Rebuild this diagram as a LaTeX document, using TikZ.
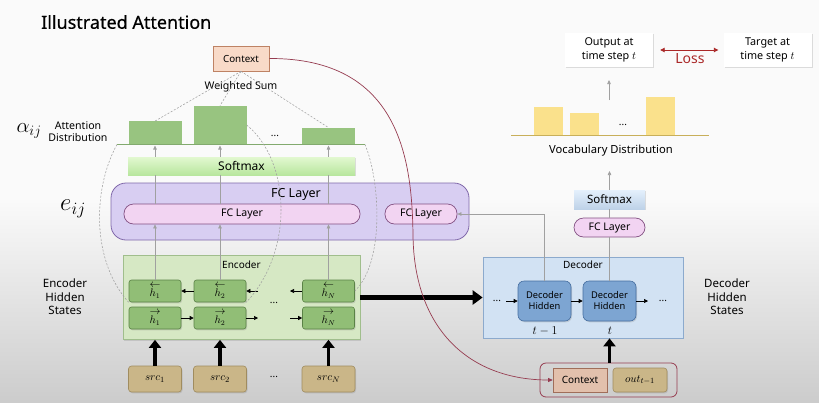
\documentclass[tikz,border=0pt]{standalone}
\usepackage{fontspec}
\setmainfont{Noto Sans}
\newfontfamily\titlefont[FakeBold=0.5]{Noto Sans}
\usetikzlibrary{arrows.meta,shadows,calc}

\definecolor{bgtop}{RGB}{250,250,250}
\definecolor{bgbot}{RGB}{204,204,204}
\definecolor{attgreen}{RGB}{152,196,128}
\definecolor{attline}{RGB}{130,170,110}
\definecolor{smxtop}{RGB}{226,248,208}
\definecolor{smxbot}{RGB}{184,230,158}
\definecolor{fcoutfill}{RGB}{216,206,242}
\definecolor{fcoutdraw}{RGB}{128,104,170}
\definecolor{fcinfill}{RGB}{242,212,242}
\definecolor{fcindraw}{RGB}{130,80,130}
\definecolor{encfill}{RGB}{214,232,196}
\definecolor{encdraw}{RGB}{160,190,140}
\definecolor{cellfill}{RGB}{145,190,118}
\definecolor{celldraw}{RGB}{90,130,70}
\definecolor{srcfill}{RGB}{202,182,136}
\definecolor{srcdraw}{RGB}{160,140,95}
\definecolor{decfill}{RGB}{210,226,243}
\definecolor{decdraw}{RGB}{140,170,205}
\definecolor{dhfill}{RGB}{125,165,210}
\definecolor{dhdraw}{RGB}{70,110,160}
\definecolor{ctxfill}{RGB}{248,218,200}
\definecolor{ctxdraw}{RGB}{190,130,100}
\definecolor{ctxbfill}{RGB}{226,192,172}
\definecolor{ctxbdraw}{RGB}{160,110,90}
\definecolor{maroon}{RGB}{150,60,80}
\definecolor{vocyellow}{RGB}{250,225,140}
\definecolor{vocline}{RGB}{200,175,90}
\definecolor{lossred}{RGB}{170,40,40}
\definecolor{dsmtop}{RGB}{228,240,252}
\definecolor{dsmbot}{RGB}{190,210,232}
\definecolor{guide}{RGB}{160,160,160}

\tikzset{
  shad/.style={drop shadow={opacity=0.25,shadow xshift=1pt,shadow yshift=-1.3pt}},
  box/.style={inner sep=0pt, align=center},
  attbar/.style={box, fill=attgreen, minimum width=53pt, anchor=south},
  vocbar/.style={box, fill=vocyellow, minimum width=29pt, anchor=south},
  hcell/.style={box, shad, draw=celldraw, fill=cellfill, rounded corners=2.5pt, line width=0.6pt,
    minimum width=52pt, minimum height=22pt, font=\fontsize{10.5}{9}\selectfont},
  srcbox/.style={box, shad, draw=srcdraw, fill=srcfill, rounded corners=3pt, line width=0.6pt,
    minimum width=53pt, minimum height=26pt, font=\fontsize{11}{12}\selectfont},
  fcin/.style={box, draw=fcindraw, fill=fcinfill, rounded corners=9.5pt, line width=0.7pt,
    minimum height=20pt, font=\fontsize{10.5}{12}\selectfont},
  dhid/.style={box, shad, draw=dhdraw, fill=dhfill, rounded corners=6pt, line width=0.6pt,
    minimum width=53pt, minimum height=40pt, font=\fontsize{9.3}{11}\selectfont},
  whitebox/.style={box, fill=white, shad, minimum width=88pt, minimum height=34pt,
    font=\fontsize{10.8}{13.5}\selectfont},
  lbl/.style={box, font=\fontsize{11.5}{13.4}\selectfont},
  small/.style={box, font=\fontsize{10}{12}\selectfont},
  gline/.style={draw=guide, line width=0.6pt},
  garrow/.style={gline, -{Triangle[length=4pt,width=3.5pt]}},
  kline/.style={line width=0.6pt, -{Triangle[length=4pt,width=4pt]}},
  fat/.style={line width=3.5pt, -{Triangle[length=8pt,width=12pt]}},
  fatter/.style={line width=4.5pt, -{Triangle[length=10pt,width=14pt]}},
  wdash/.style={draw=guide, line width=0.55pt, dash pattern=on 2pt off 1.6pt},
}

\begin{document}
\begin{tikzpicture}[x=1pt,y=-1pt]
% page background
\fill[bgtop] (0,0) rectangle (819,200);
\shade[top color=bgtop, bottom color=bgbot] (0,200) rectangle (819,402);
\useasboundingbox (0,0) rectangle (819,402);

% title
\node[anchor=west, inner sep=0pt, font=\titlefont\fontsize{18}{20}\selectfont] (title) at (41,22) {Illustrated Attention};

% ---------- attention side ----------
\node[box, shad, draw=ctxdraw, fill=ctxfill, line width=0.7pt, minimum width=56pt, minimum height=25pt,
      font=\fontsize{9.8}{11}\selectfont] (ctx) at (241,58.5) {Context};
\node[small, font=\fontsize{10.6}{12}\selectfont] (wsum) at (241,87) {Weighted Sum};

\node[attbar, minimum height=23pt] (bar1) at (155,144.5) {};
\node[attbar, minimum height=38.5pt] (bar2) at (220,144.5) {};
\node[attbar, minimum height=16.5pt] (bar3) at (328.5,144.5) {};
\coordinate (attL) at (117,144.5);
\coordinate (attR) at (365,144.5);
\draw[attline, line width=1pt] (attL) -- (attR);
\node[small] (attdots) at (275,136) {...};

\node[box] (alpha) at (29,131) {\fontsize{21}{21}\selectfont$\alpha_{ij}$};
\node[small, font=\fontsize{10.6}{12.2}\selectfont] (attlbl) at (78,132) {Attention\\Distribution};

\node[box, shad, top color=smxtop, bottom color=smxbot, minimum width=227pt, minimum height=18pt,
      font=\fontsize{12}{13}\selectfont\bfseries] (smx) at (241.5,166) {Softmax};

% FC layers
\node[box, draw=fcoutdraw, fill=fcoutfill, line width=0.8pt, rounded corners=15pt,
      minimum width=358pt, minimum height=57pt] (fco) at (290,211.5) {};
\node[box, font=\fontsize{12.5}{13}\selectfont] (fcolbl) at (296,194) {FC Layer};
\node[fcin, minimum width=236pt] (fcl) at (242,214) {FC Layer};
\node[fcin, minimum width=72pt] (fcr) at (421,214) {FC Layer};
\node[box] (eij) at (73,209) {\fontsize{23}{23}\selectfont$e_{ij}$};

% encoder
\node[box, shad, draw=encdraw, fill=encfill, line width=0.7pt, minimum width=237pt, minimum height=84pt] (enc) at (241.5,297.5) {};
\node[small] (enclbl) at (241.5,265) {Encoder};
\node[hcell] (hb1) at (155,291) {$\leftarrow$\\$h_1$};
\node[hcell] (hb2) at (220,291) {$\leftarrow$\\$h_2$};
\node[hcell] (hbN) at (328.5,291) {$\leftarrow$\\$h_N$};
\node[hcell] (hf1) at (155,318) {$\rightarrow$\\$h_1$};
\node[hcell] (hf2) at (220,318) {$\rightarrow$\\$h_2$};
\node[hcell] (hfN) at (328.5,318) {$\rightarrow$\\$h_N$};
\node[small] (encdots) at (274,303) {...};
\coordinate (bmid2) at (258,291);
\coordinate (bmidN) at (290,291);
\coordinate (fmid2) at (258,318);
\coordinate (fmidN) at (290,318);
\draw[kline] (hb2.west) -- (hb1.east);
\draw[kline] (bmid2) -- (hb2.east);
\draw[kline] (hbN.west) -- (bmidN);
\draw[kline] (hf1.east) -- (hf2.west);
\draw[kline] (hf2.east) -- (fmid2);
\draw[kline] (fmidN) -- (hfN.west);

\node[lbl] (enchs) at (65,297) {Encoder\\Hidden\\States};

% guide lines through the attention stack
\foreach \c in {hb1,hb2,hbN}{
  \draw[garrow] (\c.north) -- (\c.north |- fcl.south);
  \draw[gline] (\c.north |- fcl.north) -- (\c.north |- smx.south);
  \draw[garrow, shorten >=1pt] (\c.north |- smx.north) -- (\c.north |- attL);
}

% source tokens
\node[srcbox] (src1) at (155,379) {$src_1$};
\node[srcbox] (src2) at (220,379) {$src_2$};
\node[srcbox] (srcN) at (328.5,379) {$src_N$};
\node[small] (srcdots) at (274,377) {...};
\foreach \s in {src1,src2,srcN}{
  \draw[fat] (\s.north) -- (\s.north |- enc.south);
}

% ---------- decoder side ----------
\node[box, shad, draw=decdraw, fill=decfill, line width=0.7pt, minimum width=200pt, minimum height=81pt] (dec) at (583,297.5) {};
\node[small] (declbl) at (583,265) {Decoder};
\node[dhid] (dh1) at (544.5,301) {Decoder\\Hidden};
\node[dhid] (dh2) at (609.5,301) {Decoder\\Hidden};
\node[box, font=\fontsize{12.5}{13}\selectfont] (tm1) at (545,331) {$t-1$};
\node[box, font=\fontsize{12.5}{13}\selectfont] (tt) at (610,331) {$t$};
\node[small] (decdotsL) at (497,301) {...};
\node[small] (decdotsR) at (663,301) {...};
\coordinate (decin) at (506,301);
\coordinate (decout) at (648,301);
\draw[kline] (decin) -- (dh1.west);
\draw[kline] (dh1.east) -- (dh2.west);
\draw[kline] (dh2.east) -- (decout);
\node[lbl] (dechs) at (727,297) {Decoder\\Hidden\\States};

\draw[fatter] (enc.east) -- (dec.west);

\draw[garrow] (dh1.north) |- (fcr.east);

\node[fcin, minimum width=71pt, minimum height=19pt] (fcs) at (609.5,227.5) {FC Layer};
\node[box, shad, top color=dsmtop, bottom color=dsmbot, minimum width=71pt, minimum height=19pt,
      font=\fontsize{11.5}{12}\selectfont] (dsm) at (609.5,199.5) {Softmax};
\draw[gline] (dh2.north) -- (fcs.south);
\draw[gline] (fcs.north) -- (dsm.south);
\coordinate (vocIn) at (609.5,171);
\draw[garrow] (dsm.north) -- (vocIn);

% vocabulary distribution
\coordinate (vL) at (511,135);
\coordinate (vR) at (709,135);
\node[vocbar, minimum height=28pt] (vb1) at (548,135) {};
\node[vocbar, minimum height=22pt] (vb2) at (584.5,135) {};
\node[vocbar, minimum height=38pt] (vb3) at (660,135) {};
\draw[vocline, line width=1pt] (vL) -- (vR);
\node[small] (vocdots) at (623,125) {...};
\node[small, font=\fontsize{11.2}{12}\selectfont] (voclbl) at (611,151) {Vocabulary Distribution};
\coordinate (vocTop) at (609,100);
\coordinate (outIn) at (609,80);
\draw[garrow] (vocTop) -- (outIn);

\node[whitebox] (outb) at (609,50) {Output at\\time step $t$};
\node[whitebox] (tgtb) at (767.5,50) {Target at\\time step $t$};
\draw[lossred, line width=0.9pt, {Triangle[length=4.5pt,width=4.5pt]}-{Triangle[length=4.5pt,width=4.5pt]},
      shorten <=7pt, shorten >=5pt] (outb.east) -- (tgtb.west);
\node[box, text=lossred, font=\fontsize{14}{15}\selectfont] (loss) at (690,59) {Loss};

% decoder input
\node[box, draw=maroon, line width=0.8pt, rounded corners=6pt, minimum width=137pt, minimum height=34pt] (grp) at (608.5,380) {};
\node[box, shad, draw=ctxbdraw, fill=ctxbfill, line width=0.6pt, minimum width=54pt, minimum height=24pt,
      font=\fontsize{10}{11}\selectfont] (ctx2) at (580,380) {Context};
\node[srcbox, minimum width=54pt, minimum height=24pt] (outp) at (640,380) {$out_{t-1}$};
\draw[fat] (dh2.south |- grp.north) -- (dh2.south |- dec.south);

% weighted-sum guides
\draw[wdash] (ctx.south) -- (bar1.north);
\draw[wdash] (ctx.south) -- (bar2.north);
\draw[wdash] (ctx.south) -- (bar3.north);
\draw[wdash] (attL) .. controls (92,190) and (92,262) .. (hb1.south west);
\draw[wdash] (bar2.east) .. controls (290,160) and (295,250) .. (hb2.south east);
\draw[wdash] (attR) .. controls (380,180) and (385,262) .. (hbN.east);

% context fed to the decoder
\draw[maroon, line width=0.7pt, -{Triangle[length=4.5pt,width=4pt]}]
  (ctx.east) .. controls (400,58) and (412,160) .. (413,235)
  .. controls (414,330) and (470,380) .. (ctx2.west);
\end{tikzpicture}
\end{document}
